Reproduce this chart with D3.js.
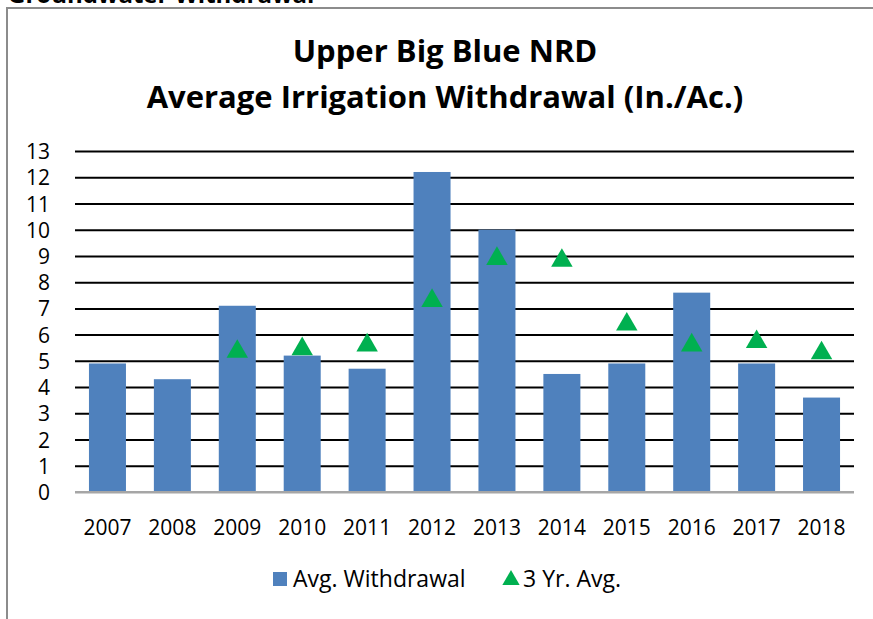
<!DOCTYPE html>
<html>
<head>
<meta charset="utf-8">
<script src="https://cdn.jsdelivr.net/npm/d3@7"></script>
<style>
  body { margin: 0; background: #fff; }
  svg { display: block; font-family: "Open Sans", "DejaVu Sans", sans-serif; }
</style>
</head>
<body>
<svg id="chart" width="873" height="619"></svg>
<script>
// chart data
var years = ["2007","2008","2009","2010","2011","2012","2013","2014","2015","2016","2017","2018"];
var withdrawal = [4.9, 4.3, 7.1, 5.2, 4.7, 12.2, 10.0, 4.5, 4.9, 7.6, 4.9, 3.6];
var threeYrAvg = [null, null, 5.43, 5.53, 5.67, 7.37, 8.97, 8.9, 6.47, 5.67, 5.8, 5.37];
var yTicks = [0,1,2,3,4,5,6,7,8,9,10,11,12,13];
var titleLines = ["Upper Big Blue NRD", "Average Irrigation Withdrawal (In./Ac.)"];
var seriesNames = ["Avg. Withdrawal", "3 Yr. Avg."];

try
{
  var svg = d3.select("#chart");
  var barColor = "#4f81bd", triColor = "#00b050";

  var plotL = 75, plotR = 854, plotT = 151, plotB = 492;

  // frame of the chart object, partly outside the window
  svg.append("text")
    .attr("x", 8).attr("y", 3)
    .style("font-size", "24px").style("font-weight", "bold")
    .text("Groundwater Withdrawal");
  svg.append("rect")
    .attr("x", 7).attr("y", 8).attr("width", 900).attr("height", 700)
    .attr("fill", "#fff").attr("stroke", "#8c8c8c").attr("stroke-width", 2);

  svg.selectAll("text.title")
    .data(titleLines)
    .enter().append("text")
    .attr("class", "title")
    .attr("x", 445)
    .attr("y", function(d, i) { return 62 + i * 46; })
    .attr("text-anchor", "middle")
    .style("font-size", "31px").style("font-weight", "bold")
    .text(function(d) { return d; });

  var x = d3.scaleBand().domain(years).range([plotL, plotR]).paddingInner(0.43).paddingOuter(0.215);
  var y = d3.scaleLinear().domain([0, 13]).range([plotB, plotT]);

  // gridlines
  var yAxis = svg.append("g")
    .attr("transform", "translate(" + plotL + ",0)")
    .call(d3.axisLeft(y).tickValues(yTicks).tickSize(-(plotR - plotL)).tickFormat(d3.format("d")));
  yAxis.select(".domain").remove();
  yAxis.selectAll(".tick line")
    .attr("stroke", function(d) { return d === 0 ? "#a6a6a6" : "#000"; })
    .attr("stroke-width", 2);
  yAxis.selectAll(".tick text")
    .attr("x", -25).attr("dy", "0.36em")
    .attr("fill", "#000")
    .style("font-size", "21px").style("font-family", "'Open Sans', sans-serif");

  svg.selectAll("rect.bar")
    .data(withdrawal)
    .enter().append("rect")
    .attr("class", "bar")
    .attr("x", function(d, i) { return x(years[i]); })
    .attr("y", function(d) { return y(d); })
    .attr("width", x.bandwidth())
    .attr("height", function(d) { return y(0) - y(d); })
    .attr("fill", barColor);

  // redraw baseline over bars
  svg.append("line")
    .attr("x1", plotL).attr("x2", plotR)
    .attr("y1", y(0)).attr("y2", y(0))
    .attr("stroke", "#a6a6a6").attr("stroke-width", 2);

  var tri = d3.symbol().type(d3.symbolTriangle).size(200);
  svg.selectAll("path.avg")
    .data(threeYrAvg.map(function(v, i) { return {v: v, year: years[i]}; }).filter(function(d) { return d.v != null; }))
    .enter().append("path")
    .attr("class", "avg")
    .attr("transform", function(d) {
      return "translate(" + (x(d.year) + x.bandwidth() / 2) + "," + (y(d.v) + 2) + ")";
    })
    .attr("d", tri)
    .attr("fill", triColor);

  var xAxis = svg.append("g")
    .attr("transform", "translate(0," + plotB + ")")
    .call(d3.axisBottom(x).tickSize(0));
  xAxis.select(".domain").remove();
  xAxis.selectAll(".tick text")
    .attr("y", 28).attr("dy", "0.71em")
    .attr("fill", "#000")
    .style("font-size", "21px").style("font-family", "'Open Sans', sans-serif");

  // legend
  var lg = svg.append("g").attr("transform", "translate(273,571)");
  lg.append("rect").attr("x", 0).attr("y", 1).attr("width", 14).attr("height", 14).attr("fill", barColor);
  lg.append("text").attr("x", 20).attr("y", 16).style("font-size", "23px").text(seriesNames[0]);
  lg.append("path").attr("transform", "translate(238,9)").attr("d", d3.symbol().type(d3.symbolTriangle).size(130)).attr("fill", triColor);
  lg.append("text").attr("x", 250).attr("y", 16).style("font-size", "23px").text(seriesNames[1]);
}
catch(e)
{
  console.log(e);
}
</script>
</body>
</html>
